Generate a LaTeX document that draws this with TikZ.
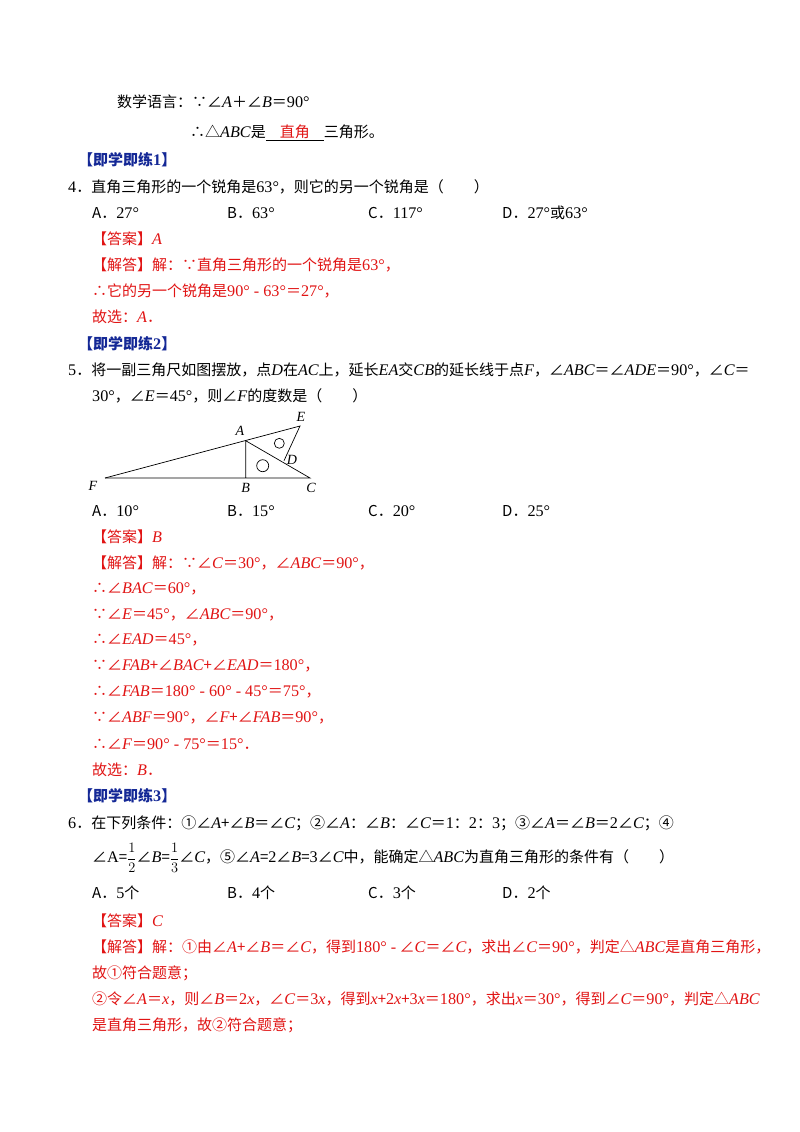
\documentclass[tikz,border=0pt]{standalone}
\usepackage{fontspec}
\setmainfont{Noto Sans CJK SC}
\newfontfamily\lsf{Liberation Serif}[Scale=1.08]
\newcommand\mi[1]{{\lsf\itshape #1}}
\newcommand\rmn[1]{{\lsf #1}}
\definecolor{ansred}{RGB}{225,20,20}
\definecolor{headblue}{RGB}{20,40,150}
\begin{document}
\begin{tikzpicture}[x=1pt,y=-1pt,
  tx/.style={anchor=west,inner sep=0pt,font=\fontsize{15}{18}\selectfont},
  rd/.style={tx,text=ansred},
  hd/.style={tx,text=headblue,font=\fontsize{15}{18}\selectfont\bfseries},
  lbl/.style={inner sep=0pt,font=\fontsize{13}{15}\lsf\itshape},
  fig/.style={line width=0.7pt}]
\useasboundingbox[fill=white] (0,0) rectangle (800,1132);
\node[tx] (l1) at (117,102) {数学语言：∵∠\mi{A}＋∠\mi{B}＝\rmn{90°}};
\node[tx] (l2) at (190,133) {∴△\mi{ABC}是\underline{\hbox to 14pt{}\textcolor{ansred}{直角}\hbox to 14pt{}}三角形。};
\node[hd] (h1) at (78,160) {【即学即练\rmn{1}】};
\node[tx] (q4) at (68,187) {\rmn{4}．直角三角形的一个锐角是\rmn{63°}，则它的另一个锐角是（　　）};
\node[tx] (a4a) at (92,213) {A．\rmn{27°}};
\node[tx] (a4b) at (227,213) {B．\rmn{63°}};
\node[tx] (a4c) at (368,213) {C．\rmn{117°}};
\node[tx] (a4d) at (502,213) {D．\rmn{27°}或\rmn{63°}};
\node[rd] (k4) at (92,239) {【答案】\mi{A}};
\node[rd] (s41) at (92,265) {【解答】解：∵直角三角形的一个锐角是\rmn{63°}，};
\node[rd] (s42) at (92,291) {∴它的另一个锐角是\rmn{90° - 63°}＝\rmn{27°}，};
\node[rd] (s43) at (92,317) {故选：\mi{A}．};
\node[hd] (h2) at (78,344) {【即学即练\rmn{2}】};
\node[tx] (q5) at (68,370) {\rmn{5}．将一副三角尺如图摆放，点\mi{D}在\mi{AC}上，延长\mi{EA}交\mi{CB}的延长线于点\mi{F}，∠\mi{ABC}＝∠\mi{ADE}＝\rmn{90°}，∠\mi{C}＝};
\node[tx] (q5b) at (92,396) {\rmn{30°}，∠\mi{E}＝\rmn{45°}，则∠\mi{F}的度数是（　　）};
% figure
\coordinate (F) at (105,478);
\coordinate (B) at (245.7,478);
\coordinate (C) at (310,478);
\coordinate (A) at (245.7,440.7);
\coordinate (E) at (300,426);
\coordinate (D) at (284,460.7);
\draw[fig] (F) -- (C) -- (A) -- (B);
\draw[fig] (F) -- (E) -- (D);
\draw[fig] (262.7,465.7) circle (6);
\draw[fig] (279.3,443.3) circle (5);
\node[lbl] (lA) at (240,431) {A};
\node[lbl] (lE) at (301,417) {E};
\node[lbl] (lD) at (292,460) {D};
\node[lbl] (lF) at (93,486) {F};
\node[lbl] (lB) at (245.7,488) {B};
\node[lbl] (lC) at (311,488) {C};
\node[tx] (a5a) at (92,511) {A．\rmn{10°}};
\node[tx] (a5b) at (227,511) {B．\rmn{15°}};
\node[tx] (a5c) at (368,511) {C．\rmn{20°}};
\node[tx] (a5d) at (502,511) {D．\rmn{25°}};
\node[rd] (k5) at (92,537) {【答案】\mi{B}};
\node[rd] (s51) at (92,563) {【解答】解：∵∠\mi{C}＝\rmn{30°}，∠\mi{ABC}＝\rmn{90°}，};
\node[rd] (s52) at (92,589) {∴∠\mi{BAC}＝\rmn{60°}，};
\node[rd] (s53) at (92,615) {∵∠\mi{E}＝\rmn{45°}，∠\mi{ABC}＝\rmn{90°}，};
\node[rd] (s54) at (92,640) {∴∠\mi{EAD}＝\rmn{45°}，};
\node[rd] (s55) at (92,666) {∵∠\mi{FAB}+∠\mi{BAC}+∠\mi{EAD}＝\rmn{180°}，};
\node[rd] (s56) at (92,692) {∴∠\mi{FAB}＝\rmn{180° - 60° - 45°}＝\rmn{75°}，};
\node[rd] (s57) at (92,718) {∵∠\mi{ABF}＝\rmn{90°}，∠\mi{F}+∠\mi{FAB}＝\rmn{90°}，};
\node[rd] (s58) at (92,744) {∴∠\mi{F}＝\rmn{90° - 75°}＝\rmn{15°}．};
\node[rd] (s59) at (92,770) {故选：\mi{B}．};
\node[hd] (h3) at (78,796) {【即学即练\rmn{3}】};
\node[tx] (q6) at (68,823) {\rmn{6}．在下列条件：①∠\mi{A}+∠\mi{B}＝∠\mi{C}；②∠\mi{A}：∠\mi{B}：∠\mi{C}＝\rmn{1}：\rmn{2}：\rmn{3}；③∠\mi{A}＝∠\mi{B}＝\rmn{2}∠\mi{C}；④};
\node[tx] (q6b) at (92,858) {∠\rmn{A}=$\displaystyle\frac{1}{2}$∠\mi{B}=$\displaystyle\frac{1}{3}$∠\mi{C}，⑤∠\mi{A}=\rmn{2}∠\mi{B}=\rmn{3}∠\mi{C}中，能确定△\mi{ABC}为直角三角形的条件有（　　）};
\node[tx] (a6a) at (92,893) {A．\rmn{5}个};
\node[tx] (a6b) at (227,893) {B．\rmn{4}个};
\node[tx] (a6c) at (368,893) {C．\rmn{3}个};
\node[tx] (a6d) at (502,893) {D．\rmn{2}个};
\node[rd] (k6) at (92,921) {【答案】\mi{C}};
\node[rd] (s61) at (92,947) {【解答】解：①由∠\mi{A}+∠\mi{B}＝∠\mi{C}，得到\rmn{180° -} ∠\mi{C}＝∠\mi{C}，求出∠\mi{C}＝\rmn{90°}，判定△\mi{ABC}是直角三角形，};
\node[rd] (s62) at (92,973) {故①符合题意；};
\node[rd] (s63) at (92,999) {②令∠\mi{A}＝\mi{x}，则∠\mi{B}＝\rmn{2}\mi{x}，∠\mi{C}＝\rmn{3}\mi{x}，得到\mi{x}+\rmn{2}\mi{x}+\rmn{3}\mi{x}＝\rmn{180°}，求出\mi{x}＝\rmn{30°}，得到∠\mi{C}＝\rmn{90°}，判定△\mi{ABC}};
\node[rd] (s64) at (92,1025) {是直角三角形，故②符合题意；};
\end{tikzpicture}
\end{document}
